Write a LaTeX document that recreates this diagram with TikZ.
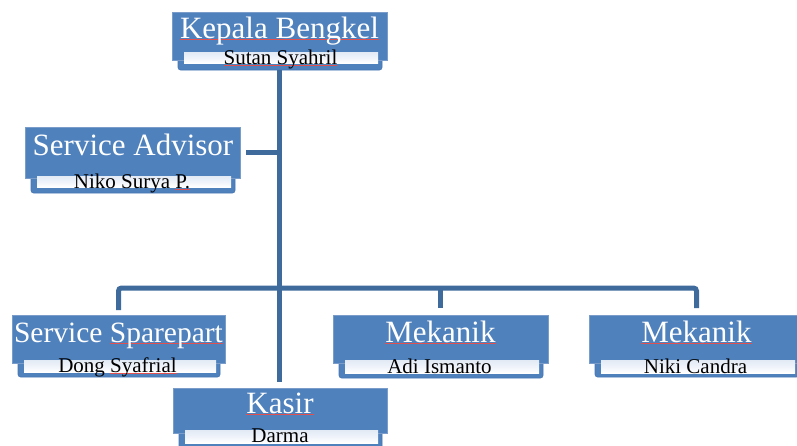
\documentclass[tikz,border=0pt]{standalone}
\usepackage{fontspec}
\setmainfont{Liberation Serif}
\usetikzlibrary{calc}
\definecolor{cardblue}{HTML}{4F81BD}
\definecolor{cardedge}{HTML}{7A9CCB}
\definecolor{lowedge}{HTML}{4777B2}
\definecolor{barfill}{HTML}{EFF3FA}
\definecolor{linkblue}{HTML}{3F6A9C}
\definecolor{spell}{HTML}{E05050}
\newcommand\squig[1]{\setbox0\hbox{#1}\rlap{\color{spell}\rule[-2pt]{\wd0}{0.8pt}}\box0}
\newcommand\orgcard[8]{%
  \node[lowbox, minimum width={#3-#2-11}, minimum height={#8-#5+12}, anchor=south west] (#1-low) at (#2+6,#8) {};
  \node[mainbox, minimum width={#3-#2}, minimum height={#5-#4}, anchor=north west] (#1) at (#2,#4) {};
  \node[barbox, minimum width={#3-#2-21}, minimum height={#7-#6}, anchor=north west] (#1-bar) at (#2+12,#6) {};
}
\tikzset{
  lowbox/.style={fill=cardblue, draw=lowedge, line width=0.6pt, rounded corners=2.5pt, inner sep=0pt, outer sep=0pt},
  mainbox/.style={fill=cardblue, draw=cardedge, line width=0.8pt, inner sep=0pt, outer sep=0pt},
  barbox/.style={top color=barfill!80!cardblue!60, bottom color=white, middle color=barfill, draw=none, inner sep=0pt, outer sep=0pt},
  ttl/.style={anchor=base, text=white, font=\fontsize{31}{31}\selectfont, inner sep=0pt},
  sub/.style={anchor=base, text=black, font=\fontsize{21}{21}\selectfont, inner sep=0pt},
  link/.style={draw=linkblue, line width=5pt},
}
\begin{document}
\begin{tikzpicture}[x=1pt,y=-1pt]
\useasboundingbox (0,0) rectangle (797,445);
\clip (0,0) rectangle (797,445);

% cards: name, L, R, T, B, bar top, bar bottom, lower bottom
\orgcard{kb}{172}{387}{12}{60}{52}{63}{70}
\orgcard{sa}{25}{240}{127}{178}{176}{187}{193}
\orgcard{ss}{12}{225}{315}{363}{360}{372}{377}
\orgcard{ks}{173}{387}{388}{433}{430}{443}{450}
\orgcard{ma}{333}{548}{315}{363}{360}{373}{378}
\orgcard{mb}{589}{804}{315}{363}{360}{373}{377}

% texts
\node[ttl] (kb-t) at (279.5,38) {\squig{Kepala Bengkel}};
\node[sub] (kb-s) at (280.5,64) {\squig{Sutan Syahril}};
\node[ttl] (sa-t) at (133,155) {Service Advisor};
\node[sub] (sa-s) at (132,188) {Niko Surya \squig{P.}};
\node[ttl, font=\fontsize{29.5}{29.5}\selectfont] (ss-t) at (118.5,342) {Service \squig{Sparepart}};
\node[sub] (ss-s) at (117.5,372) {Dong \squig{Syafrial}};
\node[ttl] (ks-t) at (280,413) {\squig{Kasir}};
\node[sub] (ks-s) at (280,442) {Darma};
\node[ttl] (ma-t) at (440.5,342) {\squig{Mekanik}};
\node[sub] (ma-s) at (439.5,373) {Adi Ismanto};
\node[ttl] (mb-t) at (696.5,342) {\squig{Mekanik}};
\node[sub] (mb-s) at (695.5,373) {Niki Candra};

% connectors
\coordinate (trunk) at (279,288);
\draw[link] (kb-low.south -| trunk) -- ([yshift=6pt]ks.north -| trunk);
\draw[link] ([xshift=6pt]sa.east) -- (sa.east -| trunk);
\draw[link, rounded corners=3pt] ([yshift=5pt]ss.north) -- (ss.north |- trunk) -- (mb.north |- trunk) -- ([yshift=7pt]mb.north);
\draw[link] (ma.north |- trunk) -- ([yshift=7pt]ma.north);
\end{tikzpicture}
\end{document}
